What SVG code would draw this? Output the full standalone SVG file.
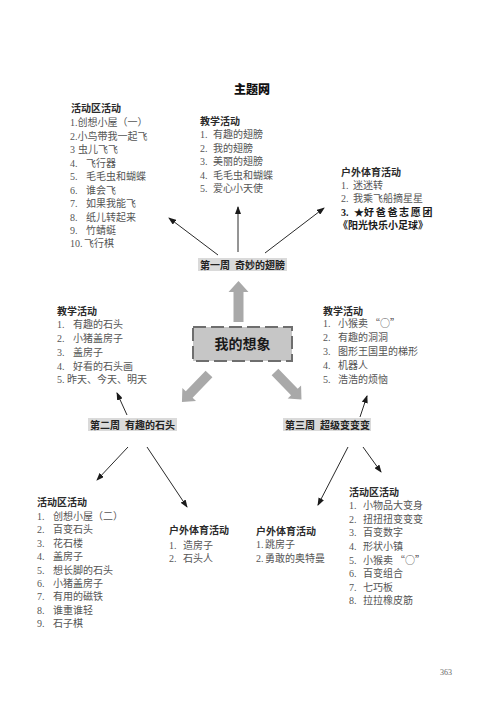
<svg xmlns="http://www.w3.org/2000/svg" width="500" height="704" viewBox="0 0 500 704">
<style>
  .bg { fill: #ffffff; }
  .title { font-family: "Noto Sans CJK SC", sans-serif; font-weight: 900; font-size: 12px; fill: #111; }
  .hd { font-family: "Noto Sans CJK SC", sans-serif; font-weight: 700; font-size: 10px; fill: #2a2a2a; }
  .it { font-family: "Liberation Serif", "Noto Sans CJK SC", serif; font-size: 10px; fill: #555; }
  .cjk { font-family: "Noto Sans CJK SC", sans-serif; }
  .bold { font-family: "Liberation Serif", "Noto Sans CJK SC", serif; font-weight: 700; font-size: 10px; fill: #1a1a1a; }
  .wk { font-family: "Noto Sans CJK SC", sans-serif; font-weight: 700; font-size: 10px; fill: #222; }
  .wkbg { fill: #dadada; }
  .line { stroke: #2a2a2a; stroke-width: 1; fill: none; marker-end: url(#ah); }
  .big { fill: #a9a9a9; }
  .pg { font-family: "Liberation Serif", serif; font-size: 8px; fill: #666; }
</style>
<defs>
  <marker id="ah" markerUnits="userSpaceOnUse" markerWidth="8" markerHeight="6" refX="7" refY="3" orient="auto">
    <path d="M0,0 L8,3 L0,6 z" fill="#1a1a1a"/>
  </marker>
  <path id="bigArrow" d="M0,-5 L30,-5 L30,-10 L41,0 L30,10 L30,5 L0,5 z"/>
</defs>
<rect class="bg" x="0" y="0" width="500" height="704"/>

<text class="title" x="252" y="94" text-anchor="middle">主题网</text>

<g id="connectors">
  <line class="line" x1="218" y1="255" x2="169" y2="218"/>
  <line class="line" x1="238" y1="252" x2="238" y2="207"/>
  <line class="line" x1="265" y1="253" x2="324" y2="208"/>
  <line class="line" x1="127" y1="415" x2="117" y2="393"/>
  <line class="line" x1="128" y1="447" x2="97" y2="480"/>
  <line class="line" x1="147" y1="447" x2="187" y2="507"/>
  <line class="line" x1="360" y1="417" x2="367" y2="396"/>
  <line class="line" x1="348" y1="447" x2="318" y2="505"/>
  <line class="line" x1="363" y1="447" x2="381" y2="472"/>
  <use href="#bigArrow" class="big" transform="translate(238.5,322) rotate(-90)"/>
  <use href="#bigArrow" class="big" transform="translate(209,374) rotate(134) scale(0.95)"/>
  <use href="#bigArrow" class="big" transform="translate(275,372) rotate(46) scale(0.93)"/>
</g>

<g id="center">
  <rect x="193" y="327" width="99" height="34" fill="#c6c6c6" stroke="#6e6e6e" stroke-width="2" stroke-dasharray="13,5"/>
  <text x="242.5" y="349" text-anchor="middle" font-family="Noto Sans CJK SC, sans-serif" font-weight="700" font-size="14" fill="#1a1a1a">我的想象</text>
</g>

<g id="week1">
  <rect class="wkbg" x="198" y="258" width="89" height="13"/>
  <text class="wk" x="200" y="268.5">第一周<tspan x="235">奇妙的翅膀</tspan></text>
</g>
<g id="week2">
  <rect class="wkbg" x="88" y="418" width="89" height="13"/>
  <text class="wk" x="90" y="428.5">第二周<tspan x="125">有趣的石头</tspan></text>
</g>
<g id="week3">
  <rect class="wkbg" x="283" y="418" width="88" height="13"/>
  <text class="wk" x="285" y="428.5">第三周<tspan x="320">超级变变变</tspan></text>
</g>

<g id="w1-area">
  <text class="hd" x="71" y="112">活动区活动</text>
  <text class="it" x="70" y="126">1.创想小屋（一）</text>
  <text class="it" x="70" y="140">2.小鸟带我一起飞</text>
  <text class="it" x="70" y="153">3<tspan x="78">虫儿飞飞</tspan></text>
  <text class="it" x="70" y="167">4.<tspan x="86">飞行器</tspan></text>
  <text class="it" x="70" y="180">5.<tspan x="86">毛毛虫和蝴蝶</tspan></text>
  <text class="it" x="70" y="194">6.<tspan x="86">谁会飞</tspan></text>
  <text class="it" x="70" y="207">7.<tspan x="86">如果我能飞</tspan></text>
  <text class="it" x="70" y="221">8.<tspan x="86">纸儿转起来</tspan></text>
  <text class="it" x="70" y="234">9.<tspan x="86">竹蜻蜓</tspan></text>
  <text class="it" x="70" y="247">10.<tspan x="84">飞行棋</tspan></text>
</g>

<g id="w1-teach">
  <text class="hd" x="200" y="125">教学活动</text>
  <text class="it" x="200" y="138">1.<tspan x="213">有趣的翅膀</tspan></text>
  <text class="it" x="200" y="152">2.<tspan x="213">我的翅膀</tspan></text>
  <text class="it" x="200" y="165">3.<tspan x="213">美丽的翅膀</tspan></text>
  <text class="it" x="200" y="179">4.<tspan x="213">毛毛虫和蝴蝶</tspan></text>
  <text class="it" x="200" y="192">5.<tspan x="213">爱心小天使</tspan></text>
</g>

<g id="w1-outdoor">
  <text class="hd" x="341" y="176">户外体育活动</text>
  <text class="it" x="341" y="189">1.<tspan x="353">迷迷转</tspan></text>
  <text class="it" x="341" y="202">2.<tspan x="353">我乘飞船摘星星</tspan></text>
  <text class="bold" x="341" y="216">3.<tspan x="354">★</tspan><tspan x="364" letter-spacing="1.7">好爸爸志愿团</tspan></text>
  <text class="bold" x="338" y="229">《阳光快乐小足球》</text>
</g>

<g id="w2-teach">
  <text class="hd" x="57" y="315">教学活动</text>
  <text class="it" x="57" y="328">1.<tspan x="73">有趣的石头</tspan></text>
  <text class="it" x="57" y="342">2.<tspan x="73">小猪盖房子</tspan></text>
  <text class="it" x="57" y="356">3.<tspan x="73">盖房子</tspan></text>
  <text class="it" x="57" y="370">4.<tspan x="73">好看的石头画</tspan></text>
  <text class="it" x="57" y="383">5.<tspan x="67">昨天、今天、明天</tspan></text>
</g>

<g id="w3-teach">
  <text class="hd" x="323" y="315">教学活动</text>
  <text class="it" x="323" y="327">1.<tspan x="338">小猴卖</tspan><tspan class="cjk" dx="2">“○”</tspan></text>
  <text class="it" x="323" y="341">2.<tspan x="338">有趣的洞洞</tspan></text>
  <text class="it" x="323" y="355">3.<tspan x="338">图形王国里的梯形</tspan></text>
  <text class="it" x="323" y="369">4.<tspan x="338">机器人</tspan></text>
  <text class="it" x="323" y="383">5.<tspan x="338">浩浩的烦恼</tspan></text>
</g>

<g id="w2-area">
  <text class="hd" x="37" y="506">活动区活动</text>
  <text class="it" x="37" y="520">1.<tspan x="53">创想小屋（二）</tspan></text>
  <text class="it" x="37" y="533">2.<tspan x="53">百变石头</tspan></text>
  <text class="it" x="37" y="547">3.<tspan x="53">花石楼</tspan></text>
  <text class="it" x="37" y="560">4.<tspan x="53">盖房子</tspan></text>
  <text class="it" x="37" y="574">5.<tspan x="53">想长脚的石头</tspan></text>
  <text class="it" x="37" y="587">6.<tspan x="53">小猪盖房子</tspan></text>
  <text class="it" x="37" y="600">7.<tspan x="53">有用的磁铁</tspan></text>
  <text class="it" x="37" y="614">8.<tspan x="53">谁重谁轻</tspan></text>
  <text class="it" x="37" y="627">9.<tspan x="53">石子棋</tspan></text>
</g>

<g id="w2-outdoor">
  <text class="hd" x="169" y="534">户外体育活动</text>
  <text class="it" x="169" y="549">1.<tspan x="183">造房子</tspan></text>
  <text class="it" x="169" y="562">2.<tspan x="183">石头人</tspan></text>
</g>

<g id="w3-outdoor">
  <text class="hd" x="256" y="535">户外体育活动</text>
  <text class="it" x="256" y="548">1.<tspan x="265">跳房子</tspan></text>
  <text class="it" x="256" y="562">2.<tspan x="265">勇敢的奥特曼</tspan></text>
</g>

<g id="w3-area">
  <text class="hd" x="349" y="496">活动区活动</text>
  <text class="it" x="349" y="509">1.<tspan x="363">小物品大变身</tspan></text>
  <text class="it" x="349" y="523">2.<tspan x="363">扭扭扭变变变</tspan></text>
  <text class="it" x="349" y="536">3.<tspan x="363">百变数字</tspan></text>
  <text class="it" x="349" y="550">4.<tspan x="363">形状小镇</tspan></text>
  <text class="it" x="349" y="564">5.<tspan x="363">小猴卖</tspan><tspan class="cjk" dx="2">“○”</tspan></text>
  <text class="it" x="349" y="577">6.<tspan x="363">百变组合</tspan></text>
  <text class="it" x="349" y="591">7.<tspan x="363">七巧板</tspan></text>
  <text class="it" x="349" y="604">8.<tspan x="363">拉拉橡皮筋</tspan></text>
</g>

<text class="pg" x="440" y="675">363</text>
</svg>
